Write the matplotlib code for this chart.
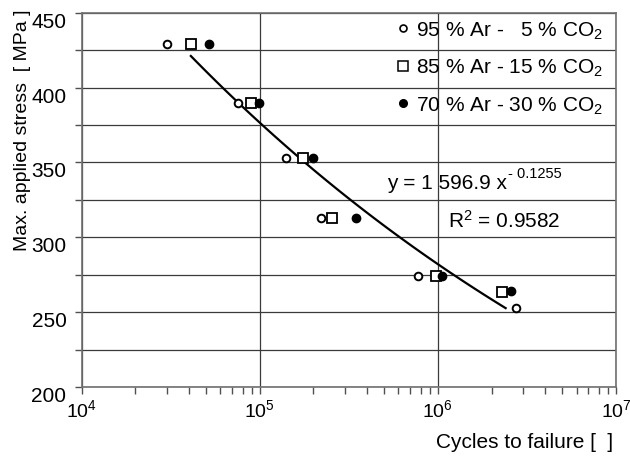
import numpy as np
import matplotlib.pyplot as plt
from matplotlib.ticker import MultipleLocator, LogLocator, NullFormatter

plt.rcParams['font.family'] = ['Liberation Sans', 'DejaVu Sans']
plt.rcParams['mathtext.fontset'] = 'custom'
plt.rcParams['mathtext.rm'] = 'Liberation Sans'
plt.rcParams['mathtext.it'] = 'Liberation Sans:italic'
plt.rcParams['mathtext.default'] = 'regular'

# cycles to failure / max stress
ar95_n = [30300, 75200, 140300, 220700, 771000, 2.75e6]
ar95_s = [429, 390, 353, 313, 274, 253]
ar85_n = [40900, 88900, 174100, 254400, 972000, 2.30e6]
ar85_s = [429, 390, 353, 313, 274, 263.5]
ar70_n = [52100, 99400, 199700, 345500, 1.05e6, 2.57e6]
ar70_s = [429, 390, 353, 313, 274, 264]

fit_a = 1596.9
fit_b = -0.1255
fit_range = [4.1e4, 2.4e6]

legend_labels = ['95 % Ar -   5 % CO$_2$', '85 % Ar - 15 % CO$_2$', '70 % Ar - 30 % CO$_2$']

fig = plt.figure(figsize=(6.3, 4.57), dpi=100)
ax = fig.add_axes([0.1297, 0.1532, 0.8481, 0.8190])

grid_c = '#3a3a3a'
ax.set_xscale('log')
ax.set_xlim(1e4, 1e7)
ax.set_ylim(200, 450)
ax.yaxis.set_major_locator(MultipleLocator(50))
ax.yaxis.set_minor_locator(MultipleLocator(25))
ax.xaxis.set_major_locator(LogLocator(base=10))
ax.xaxis.set_minor_locator(LogLocator(base=10, subs=np.arange(2, 10)))
ax.xaxis.set_minor_formatter(NullFormatter())
ax.grid(True, which='major', axis='x', color=grid_c, lw=0.9)
ax.grid(True, which='both', axis='y', color=grid_c, lw=0.9)
ax.set_axisbelow(True)
for s in ax.spines.values():
    s.set_color('#707070')
    s.set_linewidth(1.2)
ax.tick_params(which='both', direction='out', length=5, color='#505050', width=1)
ax.tick_params(axis='y', which='major', labelsize=15, pad=6)
ax.tick_params(axis='x', which='major', labelsize=14, pad=4)
for lab in ax.get_yticklabels():
    lab.set_va('top')

xf = np.logspace(np.log10(fit_range[0]), np.log10(fit_range[1]), 100)
ax.plot(xf, fit_a * xf ** fit_b, color='black', lw=1.6, zorder=3)

ax.plot(ar95_n, ar95_s, 'o', ms=5.5, mfc='white', mec='black', mew=1.4, ls='none', zorder=4)
ax.plot(ar85_n, ar85_s, 's', ms=7.5, mfc='white', mec='black', mew=1.3, ls='none', zorder=4)
ax.plot(ar70_n, ar70_s, 'o', ms=6, mfc='black', mec='black', ls='none', zorder=5)

# legend rows written as text with their markers
marks = [dict(marker='o', ms=5, mfc='white', mew=1.2),
         dict(marker='s', ms=7, mfc='white', mew=1.1),
         dict(marker='o', ms=5.5, mfc='black', mew=1)]
rows_y = [437.5, 412.5, 387.5]
for lab, m, yy in zip(legend_labels, marks, rows_y):
    ax.text(0.9757, (yy - 200) / 250, lab, transform=ax.transAxes, ha='right',
            va='center', fontsize=15, zorder=6)
    ax.plot([0.601], [(yy + 2 - 200) / 250], transform=ax.transAxes,
            ls='none', mec='black', clip_on=False, zorder=6, **m)

eq = ax.text(0.571, (450 - (183 - 12.7) / 1.496 - 200) / 250,
             'y = 1 596.9 x', transform=ax.transAxes,
             ha='left', va='center', fontsize=15, zorder=6)
ax.annotate('- 0.1255', xy=(1, 1), xycoords=eq, xytext=(1, 0),
            textcoords='offset points', ha='left', va='center', fontsize=10.5)
ax.text(0.686, (450 - (221 - 12.7) / 1.496 - 200) / 250,
        'R$^2$ = 0.9582', transform=ax.transAxes,
        ha='left', va='center', fontsize=15, zorder=6)

fig.text(23 / 630, 1 - 130 / 457, 'Max. applied stress  [ MPa ]', rotation=90,
         ha='center', va='center', fontsize=14)
fig.text(613 / 630, 1 - 442 / 457, 'Cycles to failure [  ]', ha='right',
         va='center', fontsize=15)

fig.savefig('out.png', dpi=100)
